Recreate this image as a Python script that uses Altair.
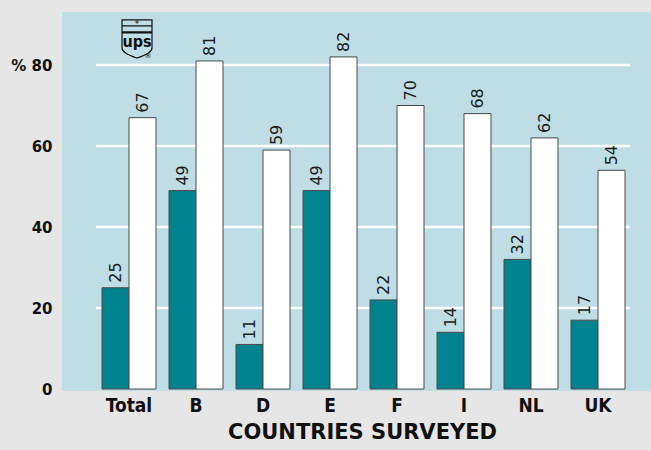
import altair as alt
import pandas as pd

countries = ["Total", "B", "D", "E", "F", "I", "NL", "UK"]
series_a = [25, 49, 11, 49, 22, 14, 32, 17]
series_b = [67, 81, 59, 82, 70, 68, 62, 54]
series_names = ["A", "B"]
y_ticks = [0, 20, 40, 60, 80]
grid_values = [20, 40, 60, 80]

rows = []
for c, a, b in zip(countries, series_a, series_b):
    rows.append({"country": c, "series": series_names[0], "value": a})
    rows.append({"country": c, "series": series_names[1], "value": b})
df = pd.DataFrame(rows)
grid_df = pd.DataFrame({"v": grid_values})
logo_df = pd.DataFrame({"k": [0]})

TEAL = "#00838f"
FONT = "DejaVu Sans"
NARROW = "'DejaVu Sans Condensed', 'DejaVu Sans'"

x_scale = alt.Scale(domain=countries, range=[40, 563], paddingInner=13 / 67, paddingOuter=0)
y_scale = alt.Scale(domain=[-0.49, 93.09], zero=False, nice=False)

x_enc = alt.X(
    "country:N",
    scale=x_scale,
    sort=countries,
    axis=alt.Axis(
        title="COUNTRIES SURVEYED",
        domain=False,
        ticks=False,
        labelAngle=0,
        labelFont=NARROW,
        labelFontWeight="bold",
        labelFontSize=19,
        labelColor="#111111",
        labelPadding=5,
        titleFont=FONT,
        titleFontWeight="bold",
        titleFontSize=21,
        titleColor="#111111",
        titleX=300,
        titleY=47,
        titleBaseline="alphabetic",
    ),
)
y_enc = alt.Y(
    "value:Q",
    scale=y_scale,
    axis=alt.Axis(
        title=None,
        values=y_ticks,
        domain=False,
        ticks=False,
        grid=False,
        labelFont=FONT,
        labelFontWeight="bold",
        labelFontSize=15,
        labelColor="#111111",
        labelPadding=10,
        labelExpr="datum.value == 80 ? '% 80' : datum.label",
    ),
)
xoff = alt.XOffset(
    "series:N",
    scale=alt.Scale(domain=series_names, paddingInner=0, paddingOuter=0),
)

grid = alt.Chart(grid_df).mark_rule(color="white", strokeWidth=2.5).encode(
    y=alt.Y("v:Q", scale=y_scale),
    x=alt.value(34),
    x2=alt.value(568),
)

bars = alt.Chart(df).mark_bar(stroke="#4a4a4a", strokeWidth=1).encode(
    x=x_enc,
    xOffset=xoff,
    y=y_enc,
    y2=alt.datum(0),
    fill=alt.Fill(
        "series:N",
        scale=alt.Scale(domain=series_names, range=[TEAL, "#ffffff"]),
        legend=None,
    ),
)

labels = alt.Chart(df).mark_text(
    angle=270, align="left", baseline="middle", dx=5,
    font=FONT, fontSize=16, color="#1a1a1a",
).encode(
    x=alt.X("country:N", scale=x_scale, sort=countries),
    xOffset=xoff,
    y=alt.Y("value:Q", scale=y_scale),
    text="value:Q",
)

shield_path = (
    "M -1 -1.27 L 1 -1.27 L 1 -0.47 L -1 -0.47 Z "
    "M -1 -0.87 L 1 -0.87 "
    "M -1 -0.4 L 1 -0.4 L 1 0.6 Q 1 0.95 0 1.27 Q -1 0.95 -1 0.6 Z"
)
logo_shape = alt.Chart(logo_df).mark_point(
    shape=shield_path, filled=False, fill=None, stroke="#111111", strokeWidth=1.2, size=900, opacity=1
).encode(x=alt.value(75), y=alt.value(27))
logo_text = alt.Chart(logo_df).mark_text(
    text="ups", font=NARROW, fontWeight="bold", fontSize=16, baseline="alphabetic", color="#111111"
).encode(x=alt.value(75), y=alt.value(35))
logo_star = alt.Chart(logo_df).mark_text(
    text="*", font=FONT, fontSize=9, color="#111111"
).encode(x=alt.value(75), y=alt.value(12))
logo_reg = alt.Chart(logo_df).mark_text(
    text="®", font=FONT, fontSize=7, color="#111111"
).encode(x=alt.value(86), y=alt.value(44))

chart = alt.layer(grid, bars, labels, logo_shape, logo_text, logo_star, logo_reg).properties(
    width=589,
    height=379,
    padding={"left": 62, "top": 12, "right": 0, "bottom": 59},
    autosize=alt.AutoSizeParams(type="none"),
    background="#e6e6e6",
).configure_view(fill="#bedde4", stroke=None)

chart.save("out.html", embed_options={"renderer": "svg", "actions": False})
